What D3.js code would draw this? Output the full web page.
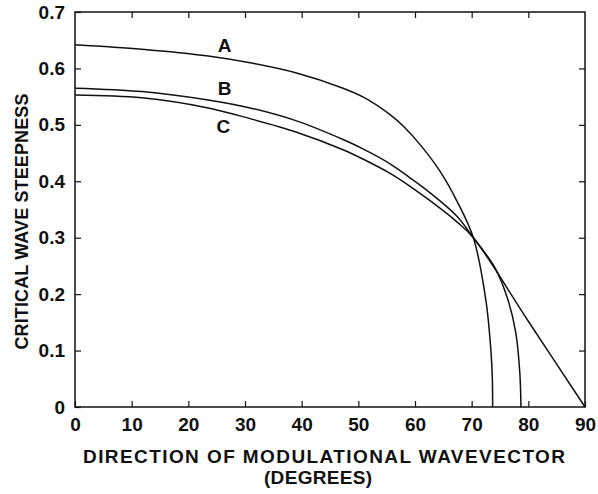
<!DOCTYPE html>
<html>
<head>
<meta charset="utf-8">
<script src="https://cdn.jsdelivr.net/npm/d3@7"></script>
<style>
  html, body { margin: 0; padding: 0; background: #fff; }
  #chart { width: 598px; height: 494px; }
  text { font-family: 'Liberation Sans', Arial, sans-serif; font-weight: bold; fill: #111; }
</style>
</head>
<body>
<div id="chart"></div>
<script>
// critical wave steepness vs direction (deg)
const curveA = [[0, 0.642], [11.8, 0.634], [23.5, 0.622], [30.9, 0.610], [39.1, 0.592],
  [47.3, 0.565], [50.9, 0.549], [55.6, 0.518], [58, 0.497], [60.9, 0.465], [64.4, 0.418],
  [67.4, 0.365], [70.3, 0.300], [72.5, 0.190], [73.4, 0.100], [73.65, 0.050], [73.7, 0]];
const curveB = [[0, 0.565], [11.8, 0.559], [23.5, 0.544], [30.9, 0.530], [39.1, 0.507],
  [47.3, 0.474], [50.9, 0.457], [55.6, 0.431], [59, 0.407], [62.6, 0.380], [67.4, 0.338],
  [70.3, 0.300], [74.1, 0.247], [76.4, 0.190], [77.8, 0.131], [78.5, 0.060], [78.7, 0]];
const curveC = [[0, 0.553], [11.8, 0.548], [23.5, 0.530], [30.9, 0.511], [39.1, 0.487],
  [47.3, 0.456], [50.9, 0.439], [55.6, 0.414], [59, 0.392], [62.6, 0.366], [67.4, 0.328],
  [70.3, 0.300], [80, 0.152], [90, 0]];
const seriesNames = ['A', 'B', 'C'];
// where each letter sits, in data units
const labelAt = [[26.4, 0.630], [26.4, 0.553], [26.2, 0.485]];

const xTicks = [0, 10, 20, 30, 40, 50, 60, 70, 80, 90];
const yTicks = [0, 0.1, 0.2, 0.3, 0.4, 0.5, 0.6, 0.7];

const margin = { top: 12, right: 13, bottom: 87, left: 75 };
const W = 598, H = 494;
const width = W - margin.left - margin.right;
const height = H - margin.top - margin.bottom;
const tickLen = 6;

const svg = d3.select('#chart').append('svg')
  .attr('width', W)
  .attr('height', H);

const g = svg.append('g')
  .attr('transform', `translate(${margin.left},${margin.top})`);

const x = d3.scaleLinear().domain([0, 90]).range([0, width]);
const y = d3.scaleLinear().domain([0, 0.7]).range([height, 0]);

// frame + inward ticks on all four sides
g.append('g')
  .attr('transform', `translate(0,${height})`)
  .call(d3.axisBottom(x).tickValues(xTicks).tickSize(-tickLen).tickSizeOuter(0).tickPadding(11)
    .tickFormat(d3.format('d')))
  .call(ax => ax.selectAll('text').style('font-size', '19px').attr('dy', '0.71em'));

g.append('g')
  .call(d3.axisLeft(y).tickValues(yTicks).tickSize(-tickLen).tickSizeOuter(0).tickPadding(10)
    .tickFormat(d => d === 0 ? '0' : d3.format('.1f')(d)))
  .call(ax => ax.selectAll('text').style('font-size', '19px'));

g.append('g')
  .call(d3.axisTop(x).tickValues(xTicks.slice(1, -1)).tickSize(-tickLen).tickSizeOuter(0).tickFormat(''));

g.append('g')
  .attr('transform', `translate(${width},0)`)
  .call(d3.axisRight(y).tickValues(yTicks.slice(1, -1)).tickSize(-tickLen).tickSizeOuter(0).tickFormat(''));

g.selectAll('.domain').remove();
g.selectAll('.tick line').attr('stroke', '#111').attr('stroke-width', 1.2);

g.append('rect')
  .attr('width', width)
  .attr('height', height)
  .attr('fill', 'none')
  .attr('stroke', '#111')
  .attr('stroke-width', 1.5);

const line = d3.line()
  .x(d => x(d[0]))
  .y(d => y(d[1]))
  .curve(d3.curveCatmullRom.alpha(0.5));

g.selectAll('path.curve')
  .data([curveA, curveB, curveC])
  .join('path')
  .attr('class', 'curve')
  .attr('d', line)
  .attr('fill', 'none')
  .attr('stroke', '#111')
  .attr('stroke-width', 1.5);

g.selectAll('text.lbl')
  .data(seriesNames)
  .join('text')
  .attr('class', 'lbl')
  .attr('x', (d, i) => x(labelAt[i][0]))
  .attr('y', (d, i) => y(labelAt[i][1]))
  .attr('text-anchor', 'middle')
  .style('font-size', '19px')
  .text(d => d);

// axis titles
svg.append('text')
  .attr('x', 324)
  .attr('y', 463)
  .attr('text-anchor', 'middle')
  .style('font-size', '19px')
  .attr('textLength', 482)
  .attr('lengthAdjust', 'spacing')
  .text('DIRECTION OF MODULATIONAL WAVEVECTOR');

svg.append('text')
  .attr('x', 318)
  .attr('y', 484)
  .attr('text-anchor', 'middle')
  .style('font-size', '19px')
  .attr('textLength', 108)
  .attr('lengthAdjust', 'spacing')
  .text('(DEGREES)');

svg.append('text')
  .attr('transform', `translate(28,${margin.top + height / 2 + 12}) rotate(-90)`)
  .attr('text-anchor', 'middle')
  .style('font-size', '18px')
  .attr('textLength', 256)
  .attr('lengthAdjust', 'spacing')
  .text('CRITICAL WAVE STEEPNESS');
</script>
</body>
</html>
